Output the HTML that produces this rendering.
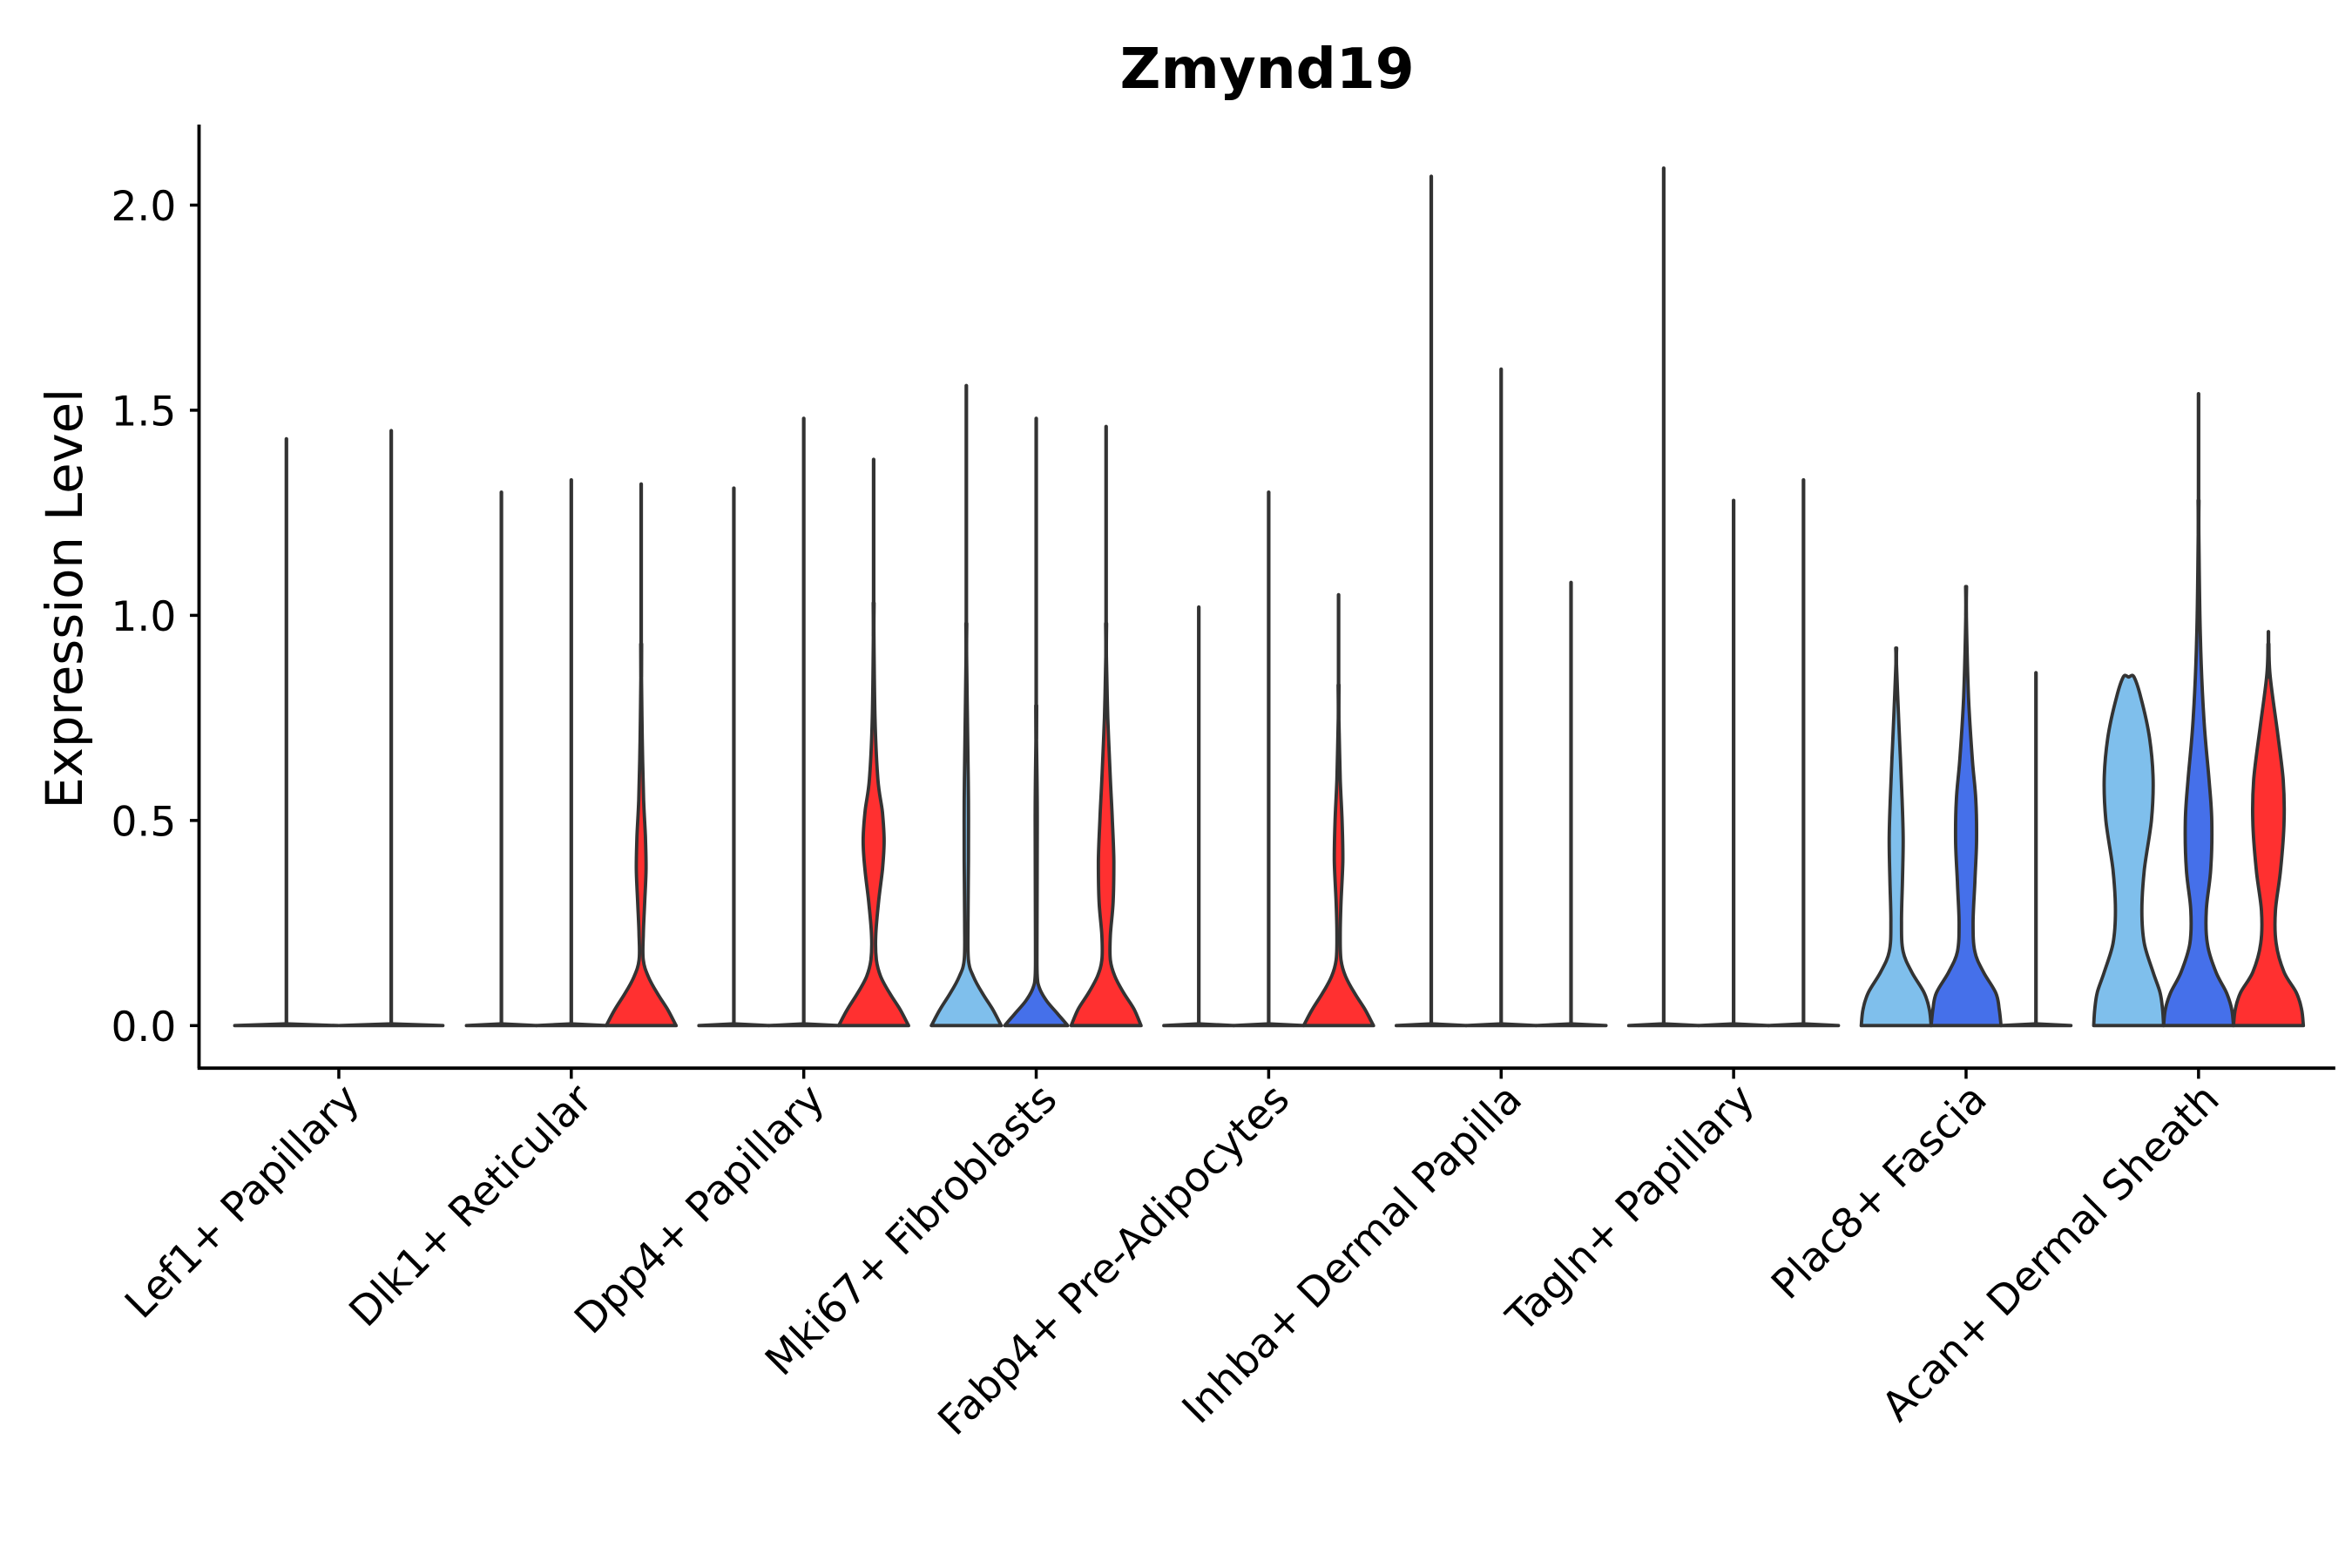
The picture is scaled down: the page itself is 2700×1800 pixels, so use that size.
<!DOCTYPE html>
<html><head><meta charset="utf-8"><style>body{margin:0;background:#fff}svg{display:block}text{font-family:"DejaVu Sans","Liberation Sans",sans-serif}</style></head>
<body>
<svg id="chart" width="2700" height="1800" viewBox="0 0 1548 1032" xmlns="http://www.w3.org/2000/svg">
<rect width="1548" height="1032" fill="#fff"/>
<text x="834" y="58" font-size="37" font-weight="bold" text-anchor="middle">Zmynd19</text>
<text transform="translate(54,394) rotate(-90)" font-size="33" text-anchor="middle">Expression Level</text>
<g id="axes"></g>
<g id="violins"></g>
</svg>
<script>
const categories=["Lef1+ Papillary","Dlk1+ Reticular","Dpp4+ Papillary","Mki67+ Fibroblasts","Fabp4+ Pre-Adipocytes","Inhba+ Dermal Papilla","Tagln+ Papillary","Plac8+ Fascia","Acan+ Dermal Sheath"];
const yTicks=[0,0.5,1.0,1.5,2.0];
const yTickLabels=["0.0","0.5","1.0","1.5","2.0"];
const groupColors=["#7FBFEC","#4570EA","#FF3030"];
const subgroups=[[0,1],[0,1,2],[0,1,2],[0,1,2],[0,1,2],[0,1,2],[0,1,2],[0,1,2],[0,1,2]];
const maxVals=[[1.43,1.45],[1.30,1.33,1.32],[1.31,1.48,1.38],[1.56,1.48,1.46],[1.02,1.30,1.05],[2.07,1.60,1.08],[2.09,1.28,1.33],[0.92,1.07,0.86],[0.85,1.54,0.96]];
const flatY=[0,0.005],flatW=[1,0.01];
const profY=[
 [flatY,flatY],
 [flatY,flatY,[0,0.04,0.08,0.12,0.16,0.22,0.3,0.38,0.46,0.55,0.7,0.85]],
 [flatY,flatY,[0,0.04,0.08,0.12,0.16,0.22,0.3,0.38,0.45,0.52,0.6,0.75,0.95]],
 [[0,0.04,0.08,0.12,0.16,0.25,0.4,0.55,0.7,0.9],[0,0.03,0.06,0.09,0.12,0.2,0.5,0.7],[0,0.04,0.08,0.12,0.16,0.22,0.3,0.4,0.5,0.6,0.75,0.9]],
 [flatY,flatY,[0,0.04,0.08,0.12,0.16,0.22,0.3,0.4,0.5,0.6,0.75]],
 [flatY,flatY,flatY],[flatY,flatY,flatY],
 [[0,0.04,0.08,0.13,0.18,0.25,0.35,0.45,0.55,0.65,0.75,0.88],[0,0.04,0.08,0.13,0.18,0.25,0.35,0.45,0.55,0.65,0.8,1.0],flatY],
 [[0,0.04,0.08,0.13,0.2,0.28,0.38,0.5,0.6,0.7,0.8,0.85],[0,0.04,0.08,0.13,0.2,0.28,0.38,0.5,0.6,0.75,0.95,1.2],[0,0.04,0.08,0.13,0.2,0.28,0.38,0.5,0.6,0.72,0.85]]
];
const profW=[
 [flatW,flatW],
 [flatW,flatW,[1,0.75,0.45,0.2,0.06,0.06,0.1,0.14,0.12,0.07,0.03,0.01]],
 [flatW,flatW,[1,0.75,0.45,0.2,0.08,0.06,0.14,0.25,0.3,0.25,0.12,0.04,0.01]],
 [[1,0.75,0.45,0.2,0.06,0.05,0.06,0.06,0.04,0.01],[0.9,0.6,0.3,0.1,0.03,0.02,0.03,0.01],[1,0.8,0.5,0.25,0.12,0.12,0.2,0.22,0.18,0.12,0.05,0.01]],
 [flatW,flatW,[1,0.75,0.45,0.2,0.07,0.05,0.07,0.12,0.1,0.05,0.01]],
 [flatW,flatW,flatW],[flatW,flatW,flatW],
 [[1,0.95,0.8,0.45,0.2,0.15,0.18,0.2,0.17,0.12,0.07,0.01],[1,0.95,0.85,0.5,0.25,0.2,0.25,0.3,0.28,0.18,0.07,0.01],flatW],
 [[1,0.97,0.9,0.7,0.45,0.38,0.45,0.65,0.7,0.6,0.35,0.15],[1,0.95,0.8,0.5,0.25,0.22,0.35,0.38,0.3,0.15,0.05,0.01],[1,0.95,0.8,0.45,0.22,0.2,0.35,0.45,0.42,0.25,0.05]]
];
const NS="http://www.w3.org/2000/svg";
const X0=131,X1=1537,YB=703,YT=82;
const yS=v=>675-v*270;
const xC=i=>223+i*153;
function mk(t,a,p){const e=document.createElementNS(NS,t);for(const k in a)e.setAttribute(k,a[k]);p.appendChild(e);return e;}
function smooth(pts){let d='M'+pts[0][0].toFixed(1)+','+pts[0][1].toFixed(1);
 for(let i=0;i<pts.length-1;i++){const p0=pts[Math.max(i-1,0)],p1=pts[i],p2=pts[i+1],p3=pts[Math.min(i+2,pts.length-1)];
  const c1=[p1[0]+(p2[0]-p0[0])/6,p1[1]+(p2[1]-p0[1])/6],c2=[p2[0]-(p3[0]-p1[0])/6,p2[1]-(p3[1]-p1[1])/6];
  d+='C'+c1[0].toFixed(1)+','+c1[1].toFixed(1)+' '+c2[0].toFixed(1)+','+c2[1].toFixed(1)+' '+p2[0].toFixed(1)+','+p2[1].toFixed(1);}
 return d;}
const ax=document.getElementById('axes');
const ya=mk('line',{x1:X0,y1:YT,x2:X0,y2:YB,stroke:'#000','stroke-width':2.2},ax);


const xa=mk('line',{x1:X0-1,y1:YB,x2:X1,y2:YB,stroke:'#000','stroke-width':2.2},ax);


yTicks.forEach((v,i)=>{
 const t=mk('line',{x1:X0-6,y1:yS(v),x2:X0,y2:yS(v),stroke:'#000','stroke-width':2},ax);
 
 
 const l=mk('text',{x:X0-15,y:yS(v)+10,'font-size':27,'text-anchor':'end'},ax);
 l.textContent=yTickLabels[i];
 
 
});
categories.forEach((c,i)=>{
 const t=mk('line',{x1:xC(i),y1:YB,x2:xC(i),y2:YB+7,stroke:'#000','stroke-width':2},ax);
 
 
 const l=mk('text',{transform:`translate(${xC(i)+15},${YB+22}) rotate(-45)`,'font-size':27,'text-anchor':'end'},ax);
 l.textContent=c;
 
 
});
const vg=document.getElementById('violins');
categories.forEach((c,i)=>{
 const subs=subgroups[i];const n=subs.length;
 const step=n===3?46:69;const hw=n===3?23:34;
 subs.forEach((g,j)=>{
  const cx=xC(i)+(j-(n-1)/2)*step;
  const ys=profY[i][j],ws=profW[i][j],top=maxVals[i][j];
  const last=ys[ys.length-1];
  let d;
  if(ys.length<=2){
   d=`M${cx-hw},${yS(0)}L${cx},${yS(0)-1.2}L${cx+hw},${yS(0)}Z`;
  }else{
   const right=[];
   ys.forEach((y,k)=>{right.push([cx+hw*ws[k],yS(y)]);});
   right.push([cx+0.3,yS(Math.min(top,last+0.08))]);
   const left=right.slice().reverse().map(p=>[2*cx-p[0],p[1]]);
   d=smooth(right)+'L'+left[0][0].toFixed(1)+','+left[0][1].toFixed(1)+smooth(left).replace(/^M[^C]*/,'')+'Z';
  }
  const p=mk('path',{d:d,fill:groupColors[g],stroke:'#333','stroke-width':2.2,'stroke-linejoin':'round'},vg);
  
  
  const ln=mk('line',{x1:cx,y1:yS(last),x2:cx,y2:yS(top),stroke:'#333','stroke-width':2.4,'stroke-linecap':'round'},vg);
  
  
 });
});
</script>
</body></html>
